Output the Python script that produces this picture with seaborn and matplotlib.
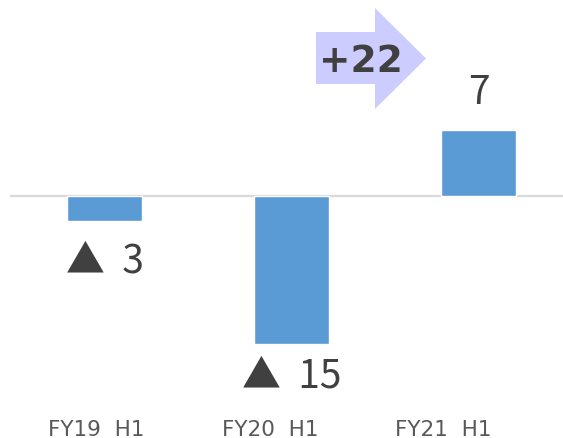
import matplotlib
matplotlib.use("Agg")
import matplotlib.pyplot as plt
import seaborn as sns
import pandas as pd
from matplotlib.patches import Polygon

# ---- data ----
categories = ["FY19  H1", "FY20  H1", "FY21  H1"]
values = [-2.5, -15.0, 6.7]
value_labels = ["▲  3", "▲  15", "7"]
change_label = "+22"

# ---- style ----
label_offsets_px = [-51, -42, 27]

W, H = 563, 439
sns.set_theme(style="white")
plt.rcParams["font.family"] = ["DejaVu Sans"]

fig = plt.figure(figsize=(W / 100, H / 100), dpi=100)


def fx(px):
    return px / W


def fy(py):
    return 1 - py / H


# main bar axes
ax = fig.add_axes([fx(10), 0, fx(553), 1])
df = pd.DataFrame({"cat": categories, "val": values})
sns.barplot(data=df, x="cat", y="val", color="#5B9BD5", saturation=1,
            width=0.4, ax=ax, zorder=2)
ax.axhline(0, color="#D9D9D9", lw=1.6, zorder=1)
ax.set_xlim(-0.5053, 2.452)
ax.set_ylim(-24.52, 19.96)
ax.axis("off")

label_font = ["Noto Sans CJK JP", "DejaVu Sans"]
for i, (v, lab) in enumerate(zip(values, value_labels)):
    ax.annotate(lab, xy=(i, v), xytext=(0, label_offsets_px[i]),
                textcoords="offset pixels", ha="center", va="baseline",
                fontsize=28, color="#404040", family=label_font)

# category label axes (labels are spaced differently from bars in the reference)
ax2 = fig.add_axes([fx(9.75), fy(436), fx(520.5), 0.001])
ax2.set_xlim(-0.5, 2.5)
ax2.set_xticks(range(len(categories)))
ax2.set_xticklabels(categories, fontsize=15.5, color="#595959")
for t in ax2.get_xticklabels():
    t.set_va("baseline")
ax2.tick_params(axis="x", length=0, pad=0)
ax2.set_yticks([])
for s in ax2.spines.values():
    s.set_visible(False)
ax2.patch.set_alpha(0)

# change arrow
pts = [(316, 33), (375, 33), (375, 9), (426, 59.5), (375, 110), (375, 85), (316, 85)]
arrow = Polygon([(fx(x), fy(y)) for x, y in pts], closed=True,
                transform=fig.transFigure, facecolor="#CCCCFF", edgecolor="none")
fig.add_artist(arrow)
fig.text(fx(361), fy(72), change_label, ha="center", va="baseline",
         fontsize=27, fontweight="bold", color="#404040")

fig.savefig("out.png", dpi=100)
